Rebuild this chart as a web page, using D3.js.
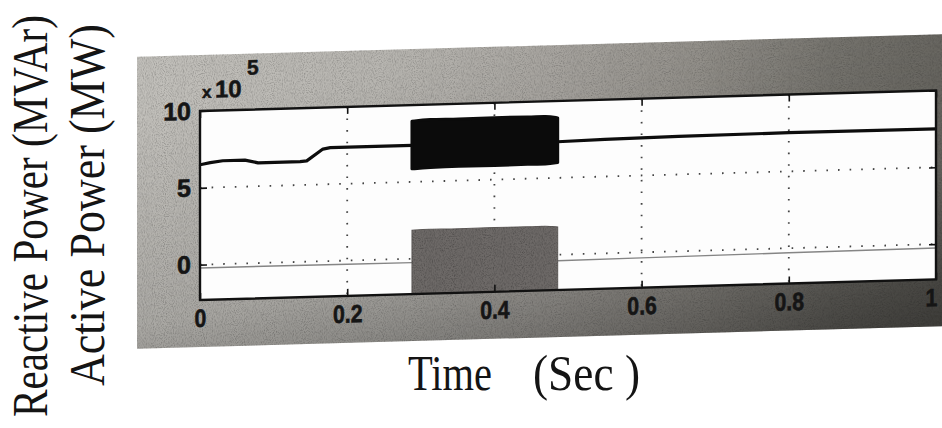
<!DOCTYPE html>
<html lang="en">
<head>
<meta charset="UTF-8">
<title>Active / Reactive Power</title>
<script src="https://cdn.jsdelivr.net/npm/d3@7"></script>
<style>
html, body { margin: 0; padding: 0; background: #fff; }
svg { display: block; }
.tick text { font-family: 'Liberation Sans', Arial, sans-serif; font-weight: bold; font-size: 25px; fill: #151515; stroke: #151515; stroke-width: 0.6; }
.tick line { stroke: #111; stroke-width: 1.6; }
.label { font-family: 'Liberation Serif', 'Times New Roman', serif; font-size: 42px; fill: #141414; }
.expo { font-family: 'Liberation Sans', Arial, sans-serif; font-weight: bold; fill: #151515; stroke: #151515; stroke-width: 0.5; }
</style>
</head>
<body>
<svg id="canvas"></svg>
<script>
// values are in units of 1e5, time in seconds
let xTicks = [0, 0.2, 0.4, 0.6, 0.8, 1]
let xTickLabels = ['0', '0.2', '0.4', '0.6', '0.8', '1']
let yTicks = [0, 5, 10]
let yTickLabels = ['0', '5', '10']

let activeTime  = [0, 0.014, 0.031, 0.061, 0.079, 0.136, 0.145, 0.167, 0.177, 0.288, 0.486, 0.55, 0.65, 0.8, 1.0]
let activeValue = [6.5, 6.62, 6.72, 6.72, 6.52, 6.52, 6.56, 7.3, 7.38, 7.38, 7.35, 7.42, 7.48, 7.52, 7.5]

let reactiveTime  = [0, 0.1, 0.2, 0.288, 0.486, 0.6, 0.8, 1.0]
let reactiveValue = [-0.22, -0.22, -0.24, -0.25, -0.4, -0.36, -0.3, -0.25]

// fast oscillation between 0.29 and 0.49 s, drawn as its envelope
let burstTime         = [0.288, 0.31, 0.35, 0.40, 0.45, 0.47, 0.486]
let activeBurstHigh   = [8.95, 9.05, 9.0, 9.05, 9.0, 9.05, 8.9]
let activeBurstLow    = [5.85, 5.9, 5.95, 5.9, 5.95, 5.9, 6.0]
let reactiveBurstHigh = [1.85, 1.9, 1.85, 1.9, 1.85, 1.9, 1.8]
let reactiveBurstLow  = [-2.4, -2.4, -2.4, -2.4, -2.4, -2.4, -2.4]

let width = 942
let height = 428
let plotLeft = 200
let plotWidth = 736
let plotTop = 111
let plotBottom = 300
let skew = -1.6

let svg = d3.select('#canvas').attr('width', width).attr('height', height)

let xScale = d3.scaleLinear().domain([0, 1]).range([0, plotWidth])
let yScale = d3.scaleLinear().domain([-2.3, 10]).range([plotBottom, plotTop])

let defs = svg.append('defs')

let grad = defs.append('linearGradient').attr('id', 'panelGrad')
grad.selectAll('stop')
    .data([[0, '#c2c0bb'], [0.3, '#b8b6b1'], [0.5, '#aaa7a2'], [0.68, '#97948e'], [0.85, '#7a7872'], [1, '#6c6a64']])
    .enter().append('stop')
    .attr('offset', d => d[0])
    .attr('stop-color', d => d[1])

let shade = defs.append('linearGradient').attr('id', 'panelShade')
    .attr('x1', 0.45).attr('y1', 0).attr('x2', 0.9).attr('y2', 1)
shade.append('stop').attr('offset', 0).attr('stop-color', '#000').attr('stop-opacity', 0)
shade.append('stop').attr('offset', 0.6).attr('stop-color', '#000').attr('stop-opacity', 0.12)
shade.append('stop').attr('offset', 1).attr('stop-color', '#000').attr('stop-opacity', 0.42)

let grain = defs.append('filter').attr('id', 'grain')
grain.append('feTurbulence').attr('type', 'fractalNoise').attr('baseFrequency', 0.9).attr('numOctaves', 2).attr('seed', 3)
grain.append('feColorMatrix').attr('type', 'matrix')
    .attr('values', '0 0 0 0 0  0 0 0 0 0  0 0 0 0 0  0 0 0 -1.6 0.9')
grain.append('feComposite').attr('in2', 'SourceGraphic').attr('operator', 'in')

defs.append('clipPath').attr('id', 'plotClip')
    .append('rect')
    .attr('x', 0).attr('y', plotTop)
    .attr('width', plotWidth).attr('height', plotBottom - plotTop)

// the photographed figure is slightly sheared
let g = svg.append('g').attr('transform', 'translate(' + plotLeft + ',0) skewY(' + skew + ')')

// grey figure background
let panel = { x: -63, y: 55, w: 820, h: 292 }
g.append('rect').attr('x', panel.x).attr('y', panel.y).attr('width', panel.w).attr('height', panel.h)
    .attr('fill', 'url(#panelGrad)')
g.append('rect').attr('x', panel.x).attr('y', panel.y).attr('width', panel.w).attr('height', panel.h)
    .attr('fill', 'url(#panelShade)')
g.append('rect').attr('x', panel.x).attr('y', panel.y).attr('width', panel.w).attr('height', panel.h)
    .attr('fill', '#30302c').attr('filter', 'url(#grain)').attr('opacity', 0.35)

// plot area
g.append('rect').attr('x', 0).attr('y', plotTop)
    .attr('width', plotWidth).attr('height', plotBottom - plotTop)
    .attr('fill', '#fdfdfd')

// dotted grid
g.selectAll('.vgrid')
    .data(xTicks.slice(1, -1))
    .enter().append('line')
    .attr('class', 'vgrid')
    .attr('x1', d => xScale(d)).attr('x2', d => xScale(d))
    .attr('y1', plotTop).attr('y2', plotBottom)
    .attr('stroke', '#444').attr('stroke-width', 1.8).attr('stroke-dasharray', '1.6,10')

g.selectAll('.hgrid')
    .data(yTicks.slice(0, -1))
    .enter().append('line')
    .attr('class', 'hgrid')
    .attr('x1', 0).attr('x2', plotWidth)
    .attr('y1', d => yScale(d)).attr('y2', d => yScale(d))
    .attr('stroke', '#444').attr('stroke-width', 1.8).attr('stroke-dasharray', '1.6,10')

let data = g.append('g').attr('clip-path', 'url(#plotClip)')

let line = d3.line().x(d => xScale(d[0])).y(d => yScale(d[1]))
let band = d3.area().x(d => xScale(d[0])).y0(d => yScale(d[1])).y1(d => yScale(d[2]))
    .curve(d3.curveBasis)

data.append('path')
    .datum(reactiveTime.map((t, i) => [t, reactiveValue[i]]))
    .attr('d', line)
    .attr('fill', 'none').attr('stroke', '#858585').attr('stroke-width', 1.4)

data.append('path')
    .datum(burstTime.map((t, i) => [t, reactiveBurstLow[i], reactiveBurstHigh[i]]))
    .attr('d', band)
    .attr('fill', '#6e6a68').attr('stroke', '#5e5a58').attr('stroke-width', 1)
data.append('path')
    .datum(burstTime.map((t, i) => [t, reactiveBurstLow[i], reactiveBurstHigh[i]]))
    .attr('d', band)
    .attr('fill', '#2a2626').attr('filter', 'url(#grain)').attr('opacity', 0.45)

data.append('path')
    .datum(activeTime.map((t, i) => [t, activeValue[i]]))
    .attr('d', line)
    .attr('fill', 'none').attr('stroke', '#0d0d0d').attr('stroke-width', 3.2)
    .attr('stroke-linejoin', 'round')

data.append('path')
    .datum(burstTime.map((t, i) => [t, activeBurstLow[i], activeBurstHigh[i]]))
    .attr('d', band)
    .attr('fill', '#0b0b0b').attr('stroke', '#0b0b0b').attr('stroke-width', 3)
    .attr('stroke-linejoin', 'round')

// axes with inward ticks
let xAxis = d3.axisBottom(xScale).tickValues(xTicks)
    .tickFormat((d, i) => xTickLabels[i]).tickSize(-7).tickPadding(9)
let yAxis = d3.axisLeft(yScale).tickValues(yTicks)
    .tickFormat((d, i) => yTickLabels[i]).tickSize(-7).tickPadding(9)

let xAxisG = g.append('g').attr('transform', 'translate(0,' + plotBottom + ')').call(xAxis)
g.append('g').call(yAxis)
g.append('g').attr('transform', 'translate(0,' + plotTop + ')')
    .call(d3.axisTop(xScale).tickValues(xTicks).tickSize(-7).tickFormat(''))
g.append('g').attr('transform', 'translate(' + plotWidth + ',0)')
    .call(d3.axisRight(yScale).tickValues(yTicks).tickSize(-7).tickFormat(''))
g.selectAll('.domain').remove()

// the printed tick labels are narrow; the last one sits at the photo edge
xAxisG.selectAll('.tick text').each(function (d) {
    let w = this.getComputedTextLength()
    d3.select(this).attr('textLength', w * 0.85).attr('lengthAdjust', 'spacingAndGlyphs')
    if (d === 1) d3.select(this).attr('dx', -5)
})

g.append('rect').attr('x', 0).attr('y', plotTop)
    .attr('width', plotWidth).attr('height', plotBottom - plotTop)
    .attr('fill', 'none').attr('stroke', '#111').attr('stroke-width', 2.4)

// exponent
g.append('text').attr('class', 'expo').attr('x', 2).attr('y', 98)
    .style('font-size', '17px').text('x')
g.append('text').attr('class', 'expo').attr('x', 15).attr('y', 98)
    .style('font-size', '24px').text('10')
g.append('text').attr('class', 'expo').attr('x', 47).attr('y', 76)
    .style('font-size', '21px').text('5')

// axis titles (tall, narrow print)
let xLabel = svg.append('text').attr('class', 'label')
    .attr('transform', 'translate(408,390) scale(1,1.22)')
xLabel.append('tspan').attr('x', 0).attr('textLength', 84).attr('lengthAdjust', 'spacingAndGlyphs').text('Time')
xLabel.append('tspan').attr('x', 125).attr('textLength', 107).attr('lengthAdjust', 'spacingAndGlyphs').text('(Sec )')

svg.append('text').attr('class', 'label')
    .attr('transform', 'translate(47,216) rotate(-90) scale(1,1.22)')
    .attr('text-anchor', 'middle')
    .attr('textLength', 402).attr('lengthAdjust', 'spacingAndGlyphs')
    .text('Reactive Power (MVAr)')

svg.append('text').attr('class', 'label')
    .attr('transform', 'translate(104,205) rotate(-90) scale(1,1.22)')
    .attr('text-anchor', 'middle')
    .attr('textLength', 362).attr('lengthAdjust', 'spacingAndGlyphs')
    .text('Active Power (MW)')
</script>
</body>
</html>
